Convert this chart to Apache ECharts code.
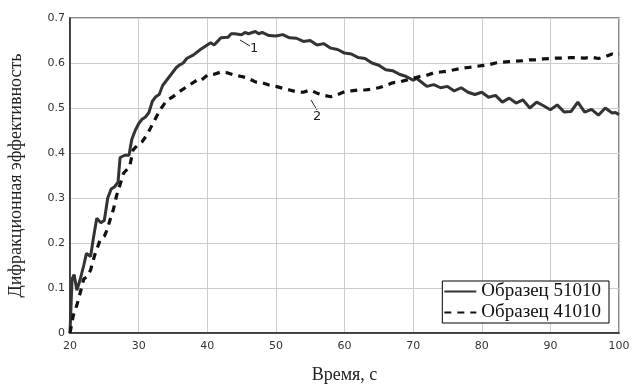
<!DOCTYPE html>
<html>
<head>
<meta charset="utf-8">
<script src="https://cdn.jsdelivr.net/npm/echarts@6/dist/echarts.min.js"></script>
<style>
  html, body { margin: 0; padding: 0; background: #fff; }
  #main { width: 633px; height: 385px; }
</style>
</head>
<body>
<div id="main"></div>
<script>
  // Образец 51010 (кривая 1)
  var t1 = [20, 20.3, 20.6, 21, 21.5, 22, 22.4, 23, 23.4, 23.9, 24.5, 25, 25.5, 26, 26.5, 27, 27.3, 28, 28.6, 29, 29.5, 30, 30.5, 31, 31.5, 32, 32.5, 33, 33.5, 34, 34.5, 35, 35.5, 36, 36.5, 37, 38, 39, 40, 40.5, 41, 41.5, 42, 43, 43.5, 44, 45, 45.5, 46, 47, 47.5, 48, 49, 50, 51, 52, 53, 54, 55, 56, 57, 58, 59, 60, 61, 62, 63, 64, 65, 66, 67, 68, 69, 70, 70.5, 71, 72, 73, 74, 75, 76, 77, 78, 79, 80, 81, 82, 83, 84, 85, 86, 87, 88, 89, 90, 91, 92, 93, 94, 95, 96, 97, 98, 99, 99.5, 100];
  var v1 = [0.0, 0.12, 0.13, 0.095, 0.12, 0.15, 0.177, 0.17, 0.21, 0.255, 0.245, 0.25, 0.30, 0.32, 0.325, 0.335, 0.39, 0.395, 0.395, 0.43, 0.45, 0.465, 0.475, 0.48, 0.49, 0.515, 0.525, 0.53, 0.55, 0.56, 0.57, 0.58, 0.59, 0.596, 0.60, 0.61, 0.618, 0.63, 0.64, 0.645, 0.64, 0.648, 0.656, 0.657, 0.665, 0.665, 0.663, 0.668, 0.665, 0.67, 0.665, 0.668, 0.661, 0.66, 0.663, 0.656, 0.655, 0.648, 0.65, 0.64, 0.643, 0.633, 0.63, 0.622, 0.62, 0.612, 0.61, 0.6, 0.595, 0.585, 0.583, 0.575, 0.57, 0.562, 0.566, 0.56, 0.548, 0.552, 0.545, 0.548, 0.538, 0.545, 0.535, 0.53, 0.535, 0.524, 0.528, 0.513, 0.522, 0.511, 0.518, 0.5, 0.513, 0.505, 0.496, 0.507, 0.491, 0.492, 0.513, 0.491, 0.497, 0.484, 0.5, 0.489, 0.49, 0.485];

  // Образец 41010 (кривая 2)
  var t2 = [20, 20.5, 21, 21.5, 22, 22.5, 23, 23.6, 24, 24.4, 25, 25.4, 26, 26.3, 26.8, 27.3, 27.8, 28.7, 29.2, 30, 30.5, 31.2, 32.1, 33.1, 34.1, 35, 35.6, 37, 38.5, 39, 40, 41, 42, 43, 44, 45, 46, 47, 48, 49, 50, 51, 52, 53, 54, 55, 56, 57, 58, 59, 60, 61, 62, 63, 64, 65, 66, 67, 68, 69, 70, 71, 72, 73, 74, 75, 76, 77, 78, 79, 80, 81, 82, 83, 84, 85, 86, 87, 88, 89, 90, 91, 92, 93, 94, 95, 96, 97, 98, 99, 99.5, 100];
  var v2 = [0.0, 0.04, 0.062, 0.09, 0.12, 0.125, 0.14, 0.173, 0.19, 0.207, 0.215, 0.229, 0.26, 0.273, 0.306, 0.33, 0.355, 0.37, 0.407, 0.42, 0.425, 0.44, 0.466, 0.495, 0.517, 0.525, 0.533, 0.547, 0.562, 0.56, 0.573, 0.575, 0.58, 0.578, 0.573, 0.57, 0.566, 0.558, 0.556, 0.551, 0.548, 0.544, 0.54, 0.536, 0.535, 0.54, 0.533, 0.528, 0.525, 0.53, 0.536, 0.538, 0.54, 0.54, 0.542, 0.545, 0.55, 0.556, 0.558, 0.562, 0.566, 0.57, 0.573, 0.578, 0.58, 0.582, 0.585, 0.588, 0.59, 0.592, 0.594, 0.596, 0.6, 0.602, 0.603, 0.604, 0.605, 0.607, 0.607, 0.609, 0.61, 0.611, 0.611, 0.612, 0.612, 0.611, 0.613, 0.61, 0.614, 0.62, 0.618, 0.62];

  var names = ['Образец 51010', 'Образец 41010'];

  function pairs(t, v) {
    var out = [];
    for (var i = 0; i < t.length; i++) out.push([t[i], v[i]]);
    return out;
  }

  var myChart = echarts.init(document.getElementById('main'));
  myChart.setOption({
    animation: false,
    grid: {
      left: 70, right: 14, top: 18, bottom: 52,
      outerBoundsMode: 'none',
      show: true, borderColor: '#666', borderWidth: 1.5
    },
    legend: {
      data: names,
      orient: 'vertical',
      right: 24,
      bottom: 62,
      padding: [1, 8, 1, 1],
      itemGap: 2,
      itemWidth: 32,
      itemHeight: 20,
      backgroundColor: '#fff',
      borderColor: '#000',
      borderWidth: 1,
      borderRadius: 0,
      itemStyle: { opacity: 0 },   // hide the circle, keep the line sample
      textStyle: { fontFamily: 'Liberation Serif', fontSize: 19, color: '#111' }
    },
    xAxis: {
      type: 'value',
      min: 20, max: 100, interval: 10,
      name: 'Время, с',
      nameLocation: 'middle',
      nameGap: 33,
      nameTextStyle: { fontFamily: 'Liberation Serif', fontSize: 18, color: '#222' },
      axisLine: { lineStyle: { color: '#222', width: 1.5 } },
      axisTick: { show: false },
      axisLabel: { fontFamily: 'DejaVu Sans', fontSize: 11, color: '#333', margin: 8 },
      splitLine: { lineStyle: { color: '#ccc', width: 1 } }
    },
    yAxis: {
      type: 'value',
      min: 0, max: 0.7, interval: 0.1,
      name: 'Дифракционная эффективность',
      nameLocation: 'middle',
      nameGap: 45,
      nameTextStyle: { fontFamily: 'Liberation Serif', fontSize: 18, color: '#222' },
      axisLine: { show: true, lineStyle: { color: '#222', width: 1.5 } },
      axisTick: { show: false },
      axisLabel: { fontFamily: 'DejaVu Sans', fontSize: 11, color: '#333', margin: 5 },
      splitLine: { lineStyle: { color: '#ccc', width: 1 } }
    },
    series: [
      {
        name: names[0],
        type: 'line',
        data: pairs(t1, v1),
        showSymbol: false,
        symbol: 'none',
        lineStyle: { color: '#333', width: 3 },
        itemStyle: { color: '#333' }
      },
      {
        name: names[1],
        type: 'line',
        data: pairs(t2, v2),
        showSymbol: false,
        symbol: 'none',
        lineStyle: { color: '#111', width: 3.2, type: [7, 6] },
        itemStyle: { color: '#111' }
      }
    ],
    graphic: [
      { type: 'line', shape: { x1: 240, y1: 40, x2: 250, y2: 46 }, style: { stroke: '#222', lineWidth: 1 } },
      { type: 'text', left: 250, top: 42, style: { text: '1', font: '13px "DejaVu Sans"', fill: '#222' } },
      { type: 'line', shape: { x1: 311, y1: 100, x2: 317, y2: 110 }, style: { stroke: '#222', lineWidth: 1 } },
      { type: 'text', left: 313, top: 110, style: { text: '2', font: '13px "DejaVu Sans"', fill: '#222' } }
    ]
  });
</script>
</body>
</html>
